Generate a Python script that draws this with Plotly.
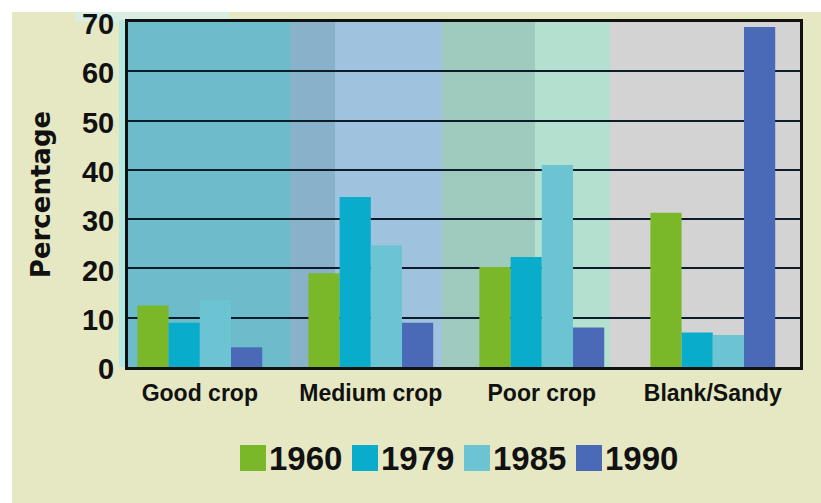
import plotly.graph_objects as go

categories = ["Good crop", "Medium crop", "Poor crop", "Blank/Sandy"]
years = ["1960", "1979", "1985", "1990"]
values_1960 = [12.5, 19, 20.3, 31.3]
values_1979 = [9, 34.5, 22.3, 7]
values_1985 = [13.5, 24.7, 41, 6.5]
values_1990 = [4, 9, 8, 69]
series = [values_1960, values_1979, values_1985, values_1990]
colors = ["#7ab82a", "#0aaccc", "#6cc4d2", "#4a6ab8"]
y_ticks = [0, 10, 20, 30, 40, 50, 60, 70]

W, H = 821, 503
L, R, T, B = 128, 21, 22, 136
PW, PH = W - L - R, H - T - B


def px(x):
    return (x - L) / PW


def py(y):
    return (H - B - y) / PH


fig = go.Figure()
for name, vals, col in zip(years, series, colors):
    fig.add_trace(go.Bar(x=categories, y=vals, name=name, marker_color=col,
                         marker_line_width=0, showlegend=False))

shapes = []
# page background (beige with a thin white margin top/left)
shapes.append(dict(type="rect", xref="paper", yref="paper", x0=px(12), x1=px(W),
                   y0=py(H), y1=py(12), fillcolor="#e5e8c2", line_width=0, layer="below"))
# light strip along the top and left of the plot frame
shapes.append(dict(type="rect", xref="paper", yref="paper", x0=px(75), x1=px(230),
                   y0=py(22), y1=py(12), fillcolor="#d9ede0", line_width=0, layer="below"))
shapes.append(dict(type="rect", xref="paper", yref="paper", x0=px(119), x1=px(128),
                   y0=py(367), y1=py(20), fillcolor="#b4e8e2", line_width=0, layer="below"))
# plot area gradient bands
bands = [(128, 290, "#6cbccb"), (290, 335, "#88b2c9"), (335, 442, "#9fc3df"),
         (442, 535, "#9fcbbf"), (535, 610, "#b4e0cf"), (610, 800, "#d3d3d3")]
for x0, x1, c in bands:
    shapes.append(dict(type="rect", xref="paper", yref="paper", x0=px(x0), x1=px(x1),
                       y0=0, y1=1, fillcolor=c, line_width=0, layer="below"))

annotations = []
sw_x0, step, sw = 240, 112, 26
for i, (name, col) in enumerate(zip(years, colors)):
    x0 = sw_x0 + i * step
    shapes.append(dict(type="rect", xref="paper", yref="paper", x0=px(x0), x1=px(x0 + sw),
                       y0=py(471), y1=py(445), fillcolor=col, line_width=0))
    annotations.append(dict(xref="paper", yref="paper", x=px(x0 + sw + 1), y=py(458),
                            xanchor="left", yanchor="middle", text="<b>" + name + "</b>",
                            showarrow=False,
                            font=dict(family="Liberation Sans, Arial", size=33, color="#111111")))

fig.update_layout(
    width=W, height=H,
    margin=dict(l=L, r=R, t=T, b=B),
    paper_bgcolor="white",
    plot_bgcolor="rgba(0,0,0,0)",
    barmode="group",
    bargap=0.27,
    bargroupgap=0,
    shapes=shapes,
    annotations=annotations,
    font=dict(family="Liberation Sans, Arial", color="#111111"),
    xaxis=dict(range=[-0.42, 3.51], showgrid=False, showline=True, linecolor="#111111",
               linewidth=3, mirror=True, ticks="", ticklabelstandoff=3, automargin=False,
               tickfont=dict(size=23, family="Liberation Sans, Arial", color="#111111"),
               tickvals=categories, ticktext=["<b>" + c + "</b>" for c in categories]),
    yaxis=dict(range=[0, 70], tickvals=y_ticks, ticktext=["<b>%d</b>" % v for v in y_ticks],
               showgrid=True, gridcolor="#0d1c2a", gridwidth=2, zeroline=False,
               showline=True, linecolor="#111111", linewidth=3, mirror=True,
               ticks="", ticklabelstandoff=5, ticklabelshift=2, automargin=False,
               tickfont=dict(size=29, family="Liberation Sans, Arial", color="#111111"),
               title=dict(text="<b>Percentage</b>", standoff=24,
                          font=dict(size=26, family="DejaVu Sans", color="#111111"))),
)

fig.write_html("out.html")
